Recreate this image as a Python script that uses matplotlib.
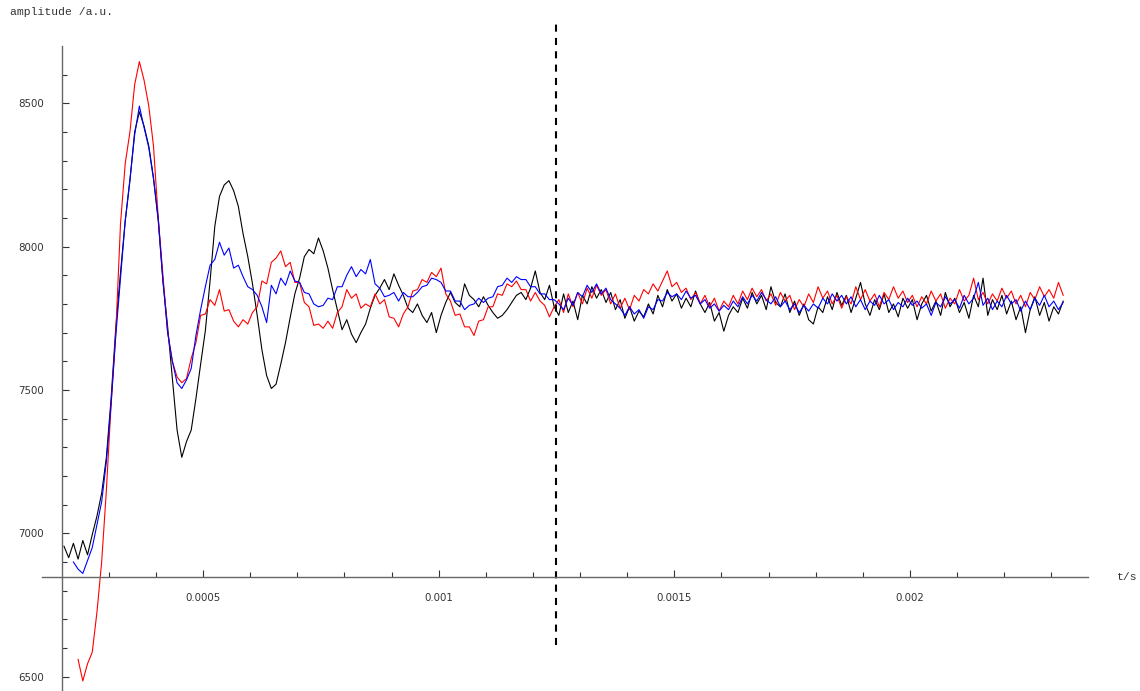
import numpy as np
import matplotlib
matplotlib.use("Agg")
import matplotlib.pyplot as plt
from matplotlib.ticker import FixedLocator

# sampled signals (amplitude in a.u.), uniform sampling step
dt = 1e-5
t0_black = 0.000205
t0_blue = 0.000225
t0_red = 0.000235

black = [
    6955, 6915, 6965, 6910, 6975, 6925, 6995, 7060, 7140, 7265,
    7470, 7718, 7910, 8090, 8230, 8400, 8470, 8420, 8350, 8240,
    8090, 7880, 7720, 7540, 7360, 7265, 7320, 7360, 7470, 7590,
    7707, 7880, 8070, 8175, 8215, 8230, 8195, 8140, 8045, 7965,
    7870, 7760, 7640, 7550, 7505, 7520, 7590, 7665, 7753, 7836,
    7890, 7965, 7990, 7975, 8030, 7985, 7925, 7850, 7780, 7710,
    7745, 7695, 7665, 7700, 7730, 7785, 7830, 7855, 7885, 7850,
    7905, 7865, 7830, 7785, 7770, 7800, 7760, 7735, 7770, 7700,
    7760, 7805, 7840, 7805, 7790, 7870, 7830, 7815, 7790, 7825,
    7795, 7770, 7750, 7760, 7780, 7805, 7830, 7840, 7815, 7855,
    7915, 7840, 7815, 7865, 7790, 7760, 7835, 7770, 7810, 7745,
    7830, 7800, 7860, 7820, 7850, 7805, 7840, 7780, 7815, 7750,
    7790, 7740, 7775, 7755, 7800, 7765, 7830, 7790, 7850, 7810,
    7835, 7785, 7820, 7790, 7845, 7800, 7770, 7805, 7740, 7770,
    7705, 7760, 7790, 7770, 7820, 7785, 7840, 7800, 7830, 7780,
    7860, 7805, 7790, 7835, 7770, 7810, 7760, 7800, 7745, 7730,
    7790, 7770, 7825, 7780, 7840, 7795, 7830, 7770, 7820, 7875,
    7800, 7760, 7815, 7780, 7835, 7770, 7800, 7755, 7820, 7785,
    7815, 7745, 7800, 7830, 7775, 7810, 7760, 7840, 7790, 7820,
    7770, 7805, 7750, 7830, 7790, 7890, 7760, 7815, 7780, 7830,
    7765, 7810, 7745, 7790, 7700, 7780, 7825, 7760, 7805, 7740,
    7790, 7765, 7810,
]

blue = [
    6900, 6875, 6860, 6905, 6950, 7030, 7110, 7250,
    7450, 7690, 7890, 8090, 8235, 8390, 8490, 8415, 8345, 8235,
    8100, 7880, 7700, 7600, 7525, 7505, 7535, 7575, 7690, 7780,
    7860, 7935, 7955, 8015, 7970, 7995, 7925, 7935, 7895, 7860,
    7850, 7830, 7790, 7735, 7865, 7835, 7890, 7865, 7915, 7880,
    7875, 7840, 7835, 7800, 7790, 7795, 7820, 7815, 7860, 7860,
    7900, 7930, 7895, 7920, 7905, 7955, 7870, 7855, 7825, 7830,
    7840, 7810, 7840, 7825, 7825, 7840, 7860, 7865, 7890, 7885,
    7875, 7845, 7845, 7810, 7810, 7780, 7795, 7800, 7820, 7805,
    7820, 7825, 7860, 7865, 7890, 7875, 7895, 7885, 7885, 7860,
    7860, 7835, 7835, 7815, 7815, 7800, 7780, 7820, 7795, 7840,
    7825, 7865, 7840, 7870, 7835, 7855, 7815, 7800, 7785, 7760,
    7790, 7765, 7780, 7750, 7790, 7780, 7815, 7810, 7840, 7825,
    7835, 7815, 7845, 7820, 7830, 7800, 7815, 7785, 7800, 7775,
    7795, 7780, 7810, 7790, 7825, 7800, 7830, 7810, 7840, 7815,
    7800, 7825, 7790, 7810, 7780, 7800, 7770, 7795, 7775, 7800,
    7785, 7820, 7800, 7835, 7810, 7830, 7800, 7825, 7790, 7815,
    7780, 7810, 7795, 7830, 7800, 7815, 7780, 7805, 7790, 7820,
    7795, 7810, 7785, 7800, 7760, 7805, 7790, 7825, 7800, 7815,
    7785, 7830, 7800, 7820, 7875, 7795, 7820, 7780, 7810, 7790,
    7830, 7800, 7815, 7775, 7810, 7780, 7820, 7795, 7830, 7790,
    7810, 7780, 7805,
]

red = [
    6560, 6485, 6545, 6585, 6725, 6900, 7150, 7450, 7700, 8080,
    8290, 8400, 8565, 8645, 8580, 8490, 8350, 8100, 7900, 7700,
    7600, 7545, 7525, 7540, 7610, 7665, 7760, 7765, 7815, 7795,
    7850, 7775, 7780, 7740, 7720, 7745, 7730, 7770, 7790, 7880,
    7870, 7945, 7960, 7985, 7930, 7945, 7875, 7875, 7805, 7790,
    7725, 7730, 7715, 7740, 7715, 7770, 7790, 7850, 7820, 7835,
    7785, 7800, 7790, 7835, 7800, 7815, 7755, 7750, 7720, 7765,
    7790, 7845, 7850, 7885, 7875, 7910, 7895, 7925, 7835, 7810,
    7760, 7765, 7720, 7720, 7690, 7740, 7745, 7790, 7790, 7835,
    7830, 7870, 7860, 7880, 7850, 7850, 7810, 7840, 7810, 7795,
    7755, 7790, 7815, 7770, 7835, 7790, 7840, 7800, 7855, 7820,
    7865, 7830, 7850, 7800, 7835, 7785, 7820, 7780, 7830, 7810,
    7850, 7835, 7870, 7845, 7880, 7915, 7860, 7875, 7840, 7855,
    7815, 7840, 7800, 7830, 7790, 7820, 7775, 7810, 7790, 7830,
    7800, 7845, 7815, 7855, 7825, 7850, 7810, 7835, 7795, 7840,
    7810, 7830, 7780, 7815, 7790, 7835, 7805, 7860, 7820, 7845,
    7800, 7830, 7785, 7825, 7800, 7860, 7815, 7850, 7810, 7835,
    7790, 7840, 7815, 7860, 7820, 7845, 7805, 7830, 7790, 7825,
    7800, 7845, 7810, 7835, 7785, 7820, 7800, 7850, 7810, 7830,
    7890, 7815, 7840, 7800, 7835, 7810, 7855, 7820, 7845, 7800,
    7830, 7790, 7840, 7815, 7860, 7825, 7850, 7820, 7875, 7830,
]

# dashed marker
marker_t = 0.00125
marker_span = (6610, 8790)

x_major = [0.0005, 0.001, 0.0015, 0.002]
x_labels = ["0.0005", "0.001", "0.0015", "0.002"]
y_major = [6500, 7000, 7500, 8000, 8500]
y_labels = ["6500", "7000", "7500", "8000", "8500"]


def times(t0, vals):
    return t0 + dt * np.arange(len(vals))


fig = plt.figure(figsize=(11.4, 6.91), dpi=100)
ax = fig.add_axes([0, 0, 1, 1])
ax.patch.set_visible(False)

ax.plot(times(t0_black, black), black, color="black", lw=0.8)
ax.plot(times(t0_red, red), red, color="red", lw=0.8)
ax.plot(times(t0_blue, blue), blue, color="blue", lw=0.8)

ax.vlines(marker_t, marker_span[0], marker_span[1], colors="black",
          linestyles=(0, (3.4, 3.0)), lw=1.5)

ax.set_xlim(0.0000693, 0.002488)
ax.set_ylim(6450, 8860)

for s in ("top", "right"):
    ax.spines[s].set_visible(False)
axcol = "#666666"
ax.spines["left"].set_position(("data", 0.0002))
ax.spines["bottom"].set_position(("data", 6848))
ax.spines["left"].set_bounds(6450, 8700)
ax.spines["bottom"].set_bounds(0.000158, 0.002378)
for s in ("left", "bottom"):
    ax.spines[s].set_color(axcol)
    ax.spines[s].set_linewidth(1.0)

ax.xaxis.set_major_locator(FixedLocator(x_major))
ax.set_xticklabels(x_labels)
ax.xaxis.set_minor_locator(FixedLocator(np.arange(3, 24) * 1e-4))
ax.yaxis.set_major_locator(FixedLocator(y_major))
ax.set_yticklabels(y_labels)
ax.yaxis.set_minor_locator(FixedLocator(np.arange(65, 87) * 100))

ax.tick_params(axis="both", which="both", direction="in", color="#333333",
               labelcolor="#333333", labelsize=7.4, width=0.8)
ax.tick_params(which="major", length=5)
ax.tick_params(which="minor", length=3.6)
ax.tick_params(axis="y", which="major", pad=13)
ax.tick_params(axis="x", which="major", pad=11.5)

W, H = 1140, 691
fig.text(10 / W, 1 - 12 / H, "amplitude /a.u.", family="Liberation Mono",
         fontsize=8.2, color="#333333", ha="left", va="center")
fig.text(1117 / W, 1 - 577 / H, "t/s", family="Liberation Mono",
         fontsize=8.2, color="#333333", ha="left", va="center")

fig.savefig("out.png", dpi=100)
